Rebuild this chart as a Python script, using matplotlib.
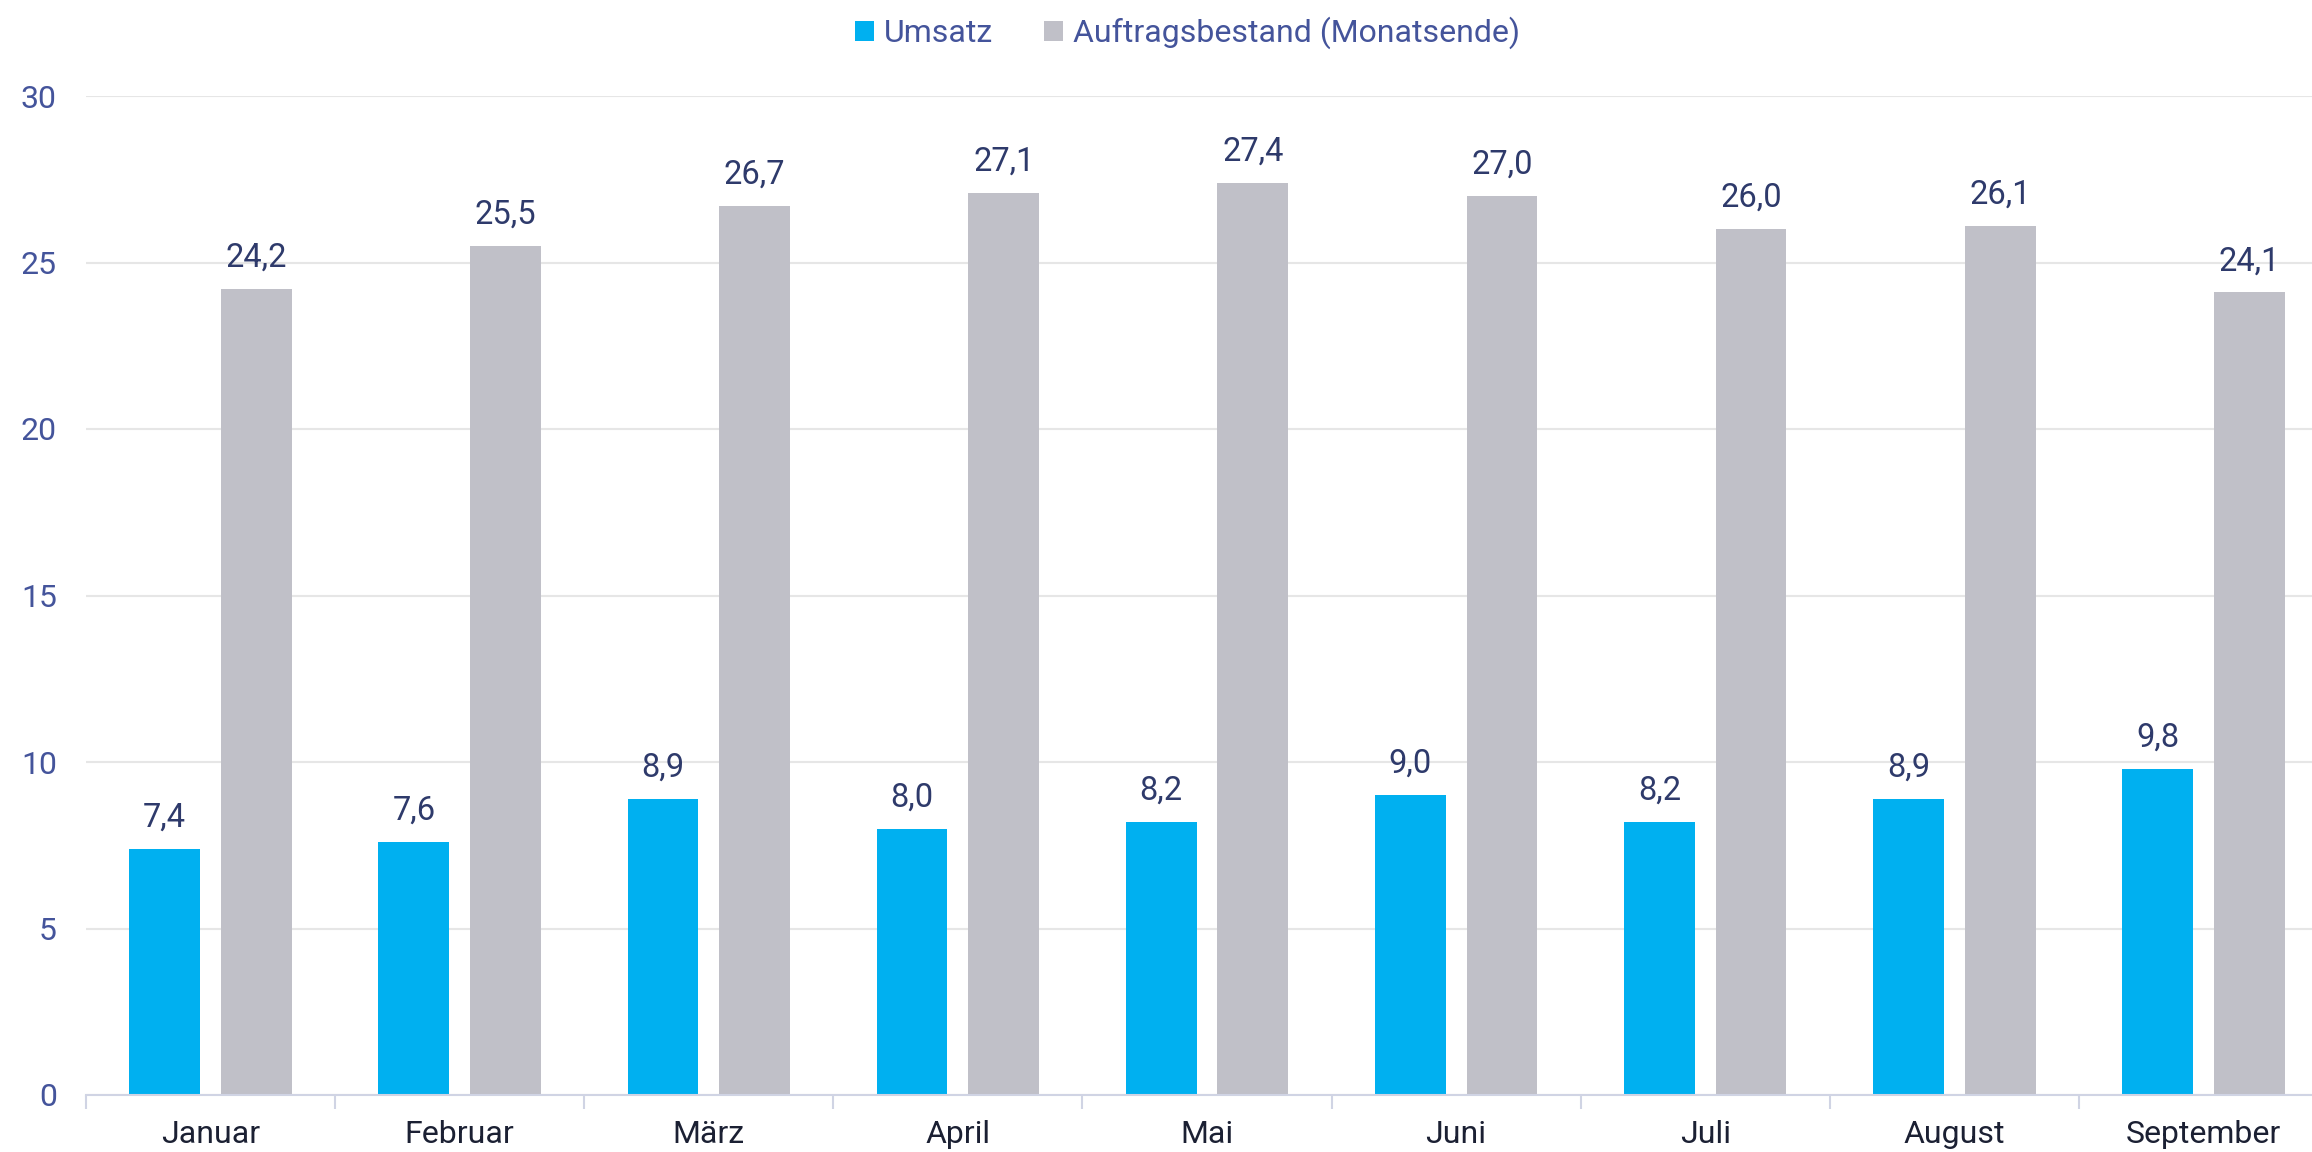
import numpy as np
import matplotlib.pyplot as plt

# Daten
monate = ['Januar', 'Februar', 'März', 'April', 'Mai', 'Juni', 'Juli', 'August', 'September']
umsatz = [7.4, 7.6, 8.9, 8.0, 8.2, 9.0, 8.2, 8.9, 9.8]
auftragsbestand = [24.2, 25.5, 26.7, 27.1, 27.4, 27.0, 26.0, 26.1, 24.1]
y_ticks = [0, 5, 10, 15, 20, 25, 30]

blau = '#00B0F0'
grau = '#C0C0C8'
achsen_blau = '#44549B'
label_farbe = '#2E3A6B'

plt.rcParams['font.family'] = ['Roboto', 'DejaVu Sans']

fig = plt.figure(figsize=(23.12, 11.52), dpi=100)
ax = fig.add_axes([86 / 2312, 57 / 1152, 2242 / 2312, 999 / 1152])

x = np.arange(len(monate))
w = 0.284
b1 = ax.bar(x - 0.184, umsatz, w, color=blau, label='Umsatz', zorder=3)
b2 = ax.bar(x + 0.184, auftragsbestand, w, color=grau, label='Auftragsbestand (Monatsende)', zorder=3)

for bars, vals in ((b1, umsatz), (b2, auftragsbestand)):
    for rect, v in zip(bars, vals):
        ax.annotate(f'{v:.1f}'.replace('.', ','),
                    (rect.get_x() + rect.get_width() / 2, v),
                    xytext=(0, 11), textcoords='offset points',
                    ha='center', va='bottom', fontsize=23.5, color=label_farbe)

ax.set_xlim(-0.5, len(monate) - 0.5)
ax.set_ylim(0, 30)
ax.set_yticks(y_ticks)
ax.set_yticklabels([str(t) for t in y_ticks], fontsize=23, color=achsen_blau)
ax.tick_params(axis='y', length=0, pad=21)

ax.set_xticks(x)
ax.set_xticklabels(monate, fontsize=23, color='#1B2033')
ax.set_xticks(np.arange(len(monate) + 1) - 0.5, minor=True)
ax.tick_params(axis='x', which='major', length=0, pad=18)
ax.tick_params(axis='x', which='minor', length=10, width=1.5, color='#D0D4E4')

ax.yaxis.grid(True, color='#E6E6E6', linewidth=1.5, zorder=0)
ax.set_axisbelow(True)
for s in ('left', 'right', 'top'):
    ax.spines[s].set_visible(False)
ax.spines['bottom'].set_color('#D0D4E4')
ax.spines['bottom'].set_linewidth(1.5)
ax.spines['bottom'].set_zorder(4)

fig.legend(loc='center', bbox_to_anchor=(0.5135, 1 - 33 / 1152), ncol=2, frameon=False,
           fontsize=23, labelcolor=achsen_blau, handlelength=0.6, handleheight=0.6,
           handletextpad=0.3, columnspacing=1.6)

fig.savefig('out.png', dpi=100)
